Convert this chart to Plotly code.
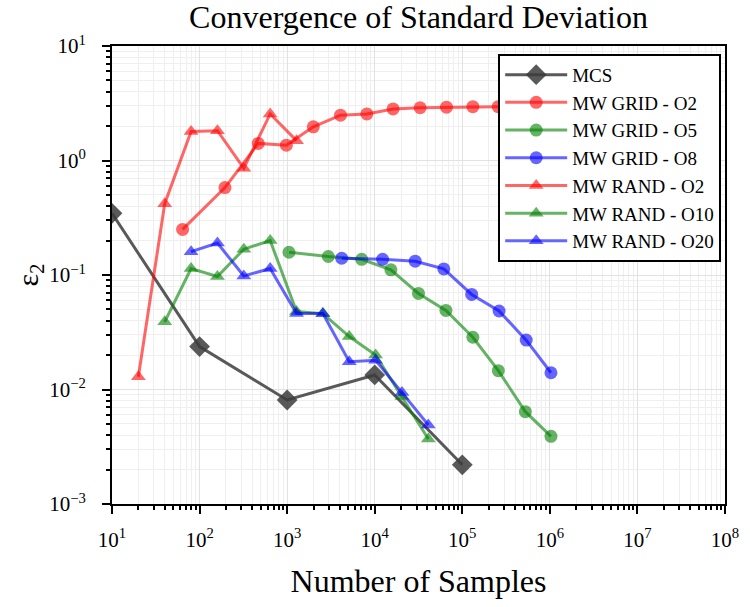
import plotly.graph_objects as go

# MCS
mcs_x = [10, 100, 1000, 10000, 100000]
mcs_y = [0.346, 0.0237, 0.0081, 0.0134, 0.0022]

# MW GRID - O2
grid_o2_x = [64, 195, 468, 980, 1990, 4070, 8130, 16200, 33000, 66000, 132000, 257000]
grid_o2_y = [0.25, 0.58, 1.41, 1.36, 1.97, 2.49, 2.55, 2.82, 2.89, 2.92, 2.95, 2.95]

# MW GRID - O5
grid_o5_x = [1050, 2950, 7100, 15300, 31600, 65000, 132000, 258000, 525000, 1030000]
grid_o5_y = [0.158, 0.145, 0.137, 0.111, 0.069, 0.049, 0.0286, 0.0146, 0.0064, 0.0039]

# MW GRID - O8
grid_o8_x = [4200, 12300, 29000, 61500, 128000, 263000, 537000, 1030000]
grid_o8_y = [0.140, 0.137, 0.132, 0.113, 0.0676, 0.0485, 0.027, 0.014]

# MW RAND - O2
rand_o2_x = [20, 40, 80, 160, 320, 640, 1280]
rand_o2_y = [0.0129, 0.42, 1.79, 1.82, 0.855, 2.55, 1.49]

# MW RAND - O10
rand_o10_x = [40, 80, 160, 320, 640, 1280, 2560, 5120, 10240, 20480, 40960]
rand_o10_y = [0.039, 0.114, 0.097, 0.168, 0.20, 0.048, 0.046, 0.029, 0.020, 0.0087, 0.0037]

# MW RAND - O20
rand_o20_x = [80, 160, 320, 640, 1280, 2560, 5120, 10240, 20480, 40960]
rand_o20_y = [0.16, 0.19, 0.098, 0.114, 0.046, 0.046, 0.0175, 0.018, 0.0094, 0.0049]

# tick labels
x_decades = [1, 2, 3, 4, 5, 6, 7, 8]
y_decades = [-3, -2, -1, 0, 1]
x_tick_text = ["10<sup>%d</sup>" % d for d in x_decades]
y_tick_text = ["10<sup>%s</sup>" % (str(d).replace("-", "\u2212")) for d in y_decades]
minor_digits = [2, 3, 4, 5, 6, 7, 8, 9]

x_tick_vals = [10.0 ** d for d in x_decades]
y_tick_vals = [10.0 ** d for d in y_decades]
x_minor_vals = [m * 10.0 ** d for d in x_decades[:-1] for m in minor_digits]
y_minor_vals = [m * 10.0 ** d for d in y_decades[:-1] for m in minor_digits]

GRAY = "rgba(60,60,60,0.85)"
RED = "rgba(255,0,0,0.6)"
GREEN = "rgba(0,128,0,0.6)"
BLUE = "rgba(0,0,255,0.6)"

series = [
    ("MCS", mcs_x, mcs_y, GRAY, "diamond", 16),
    ("MW GRID - O2", grid_o2_x, grid_o2_y, RED, "circle", 13),
    ("MW GRID - O5", grid_o5_x, grid_o5_y, GREEN, "circle", 13),
    ("MW GRID - O8", grid_o8_x, grid_o8_y, BLUE, "circle", 13),
    ("MW RAND - O2", rand_o2_x, rand_o2_y, RED, "triangle-up", 13),
    ("MW RAND - O10", rand_o10_x, rand_o10_y, GREEN, "triangle-up", 13),
    ("MW RAND - O20", rand_o20_x, rand_o20_y, BLUE, "triangle-up", 13),
]

fig = go.Figure()
for name, xs, ys, col, sym, sz in series:
    fig.add_trace(go.Scatter(
        x=xs, y=ys, name=name, mode="lines+markers",
        line=dict(color=col, width=3),
        marker=dict(color=col, symbol=sym, size=sz, line=dict(width=0)),
    ))

FONT = "Liberation Serif"
axis_common = dict(
    type="log",
    showline=True, linecolor="black", linewidth=2, mirror=True,
    ticks="outside", ticklen=8, tickwidth=2, tickcolor="black",
    showgrid=True, gridcolor="#e2e2e2", gridwidth=1, zeroline=False,
    tickfont=dict(family=FONT, size=21, color="black"),
)

fig.update_layout(
    width=750, height=607,
    margin=dict(l=112, r=25, t=46, b=103),
    paper_bgcolor="white", plot_bgcolor="white",
    title=dict(text="Convergence of Standard Deviation", x=0.558, xanchor="center",
               y=0.972, yanchor="middle",
               font=dict(family=FONT, size=32, color="black")),
    font=dict(family=FONT, color="black"),
    xaxis=dict(axis_common, range=[1, 8], tickvals=x_tick_vals, ticktext=x_tick_text,
               ticklabelstandoff=8,
               minor=dict(tickvals=x_minor_vals, ticks="outside", ticklen=4, tickwidth=2,
                          tickcolor="black", showgrid=True, gridcolor="#efefef", gridwidth=1),
               title=dict(text="Number of Samples", font=dict(family=FONT, size=32), standoff=18)),
    yaxis=dict(axis_common, range=[-3, 1], tickvals=y_tick_vals, ticktext=y_tick_text,
               ticklabelstandoff=12,
               minor=dict(tickvals=y_minor_vals, ticks="outside", ticklen=4, tickwidth=2,
                          tickcolor="black", showgrid=True, gridcolor="#efefef", gridwidth=1),
               title=dict(text="ε<sub>2</sub>", font=dict(family=FONT, size=30), standoff=2)),
    legend=dict(x=0.63, y=0.983, xanchor="left", yanchor="top",
                bgcolor="white", bordercolor="black", borderwidth=2,
                font=dict(family=FONT, size=19, color="black"),
                itemwidth=62, tracegroupgap=0),
)

fig.write_html("out.html", config={"displayModeBar": False},
               post_script="document.body.style.margin='0';")
